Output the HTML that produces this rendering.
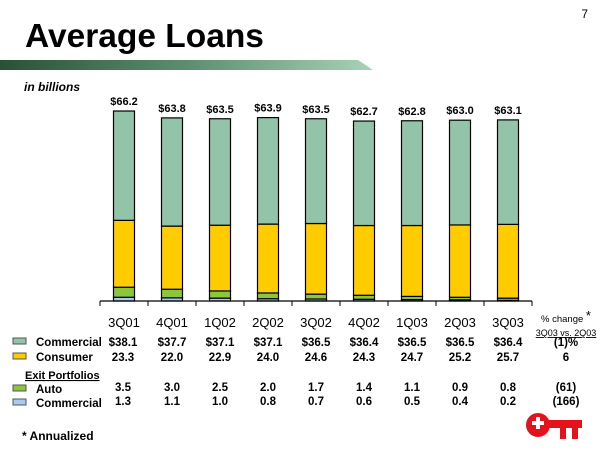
<!DOCTYPE html>
<html><head><meta charset="utf-8"><style>
body{margin:0;background:#fff;}
svg text{font-family:"Liberation Sans",Arial,sans-serif;}
</style></head><body>
<svg width="600" height="450" viewBox="0 0 600 450" xmlns="http://www.w3.org/2000/svg">
<defs><linearGradient id="g" x1="0" x2="1"><stop offset="0" stop-color="#2a5138"/><stop offset="0.5" stop-color="#5d8d6f"/><stop offset="1" stop-color="#a9d2b9"/></linearGradient></defs>
<text x="588" y="18" font-size="12" font-family="Liberation Serif" text-anchor="end">7</text>
<text x="25" y="47" font-size="33.5" font-weight="bold">Average Loans</text>
<polygon points="0,60 358,60 373,70 0,70" fill="url(#g)"/>
<text x="24" y="91" font-size="12" font-weight="bold" font-style="italic">in billions</text>
<g id="chart"></g>
<g id="table"></g>
<text x="566" y="322" font-size="9.5" text-anchor="middle">% change <tspan font-size="13" dy="-2">*</tspan></text>
<text x="566" y="336" font-size="9" text-anchor="middle" text-decoration="underline">3Q03 vs. 2Q03</text>
<text x="25" y="379" font-size="11" font-weight="bold" text-decoration="underline">Exit Portfolios</text>
<text x="22" y="440" font-size="12" font-weight="bold">* Annualized</text>
<g fill="#e3121b">
<circle cx="538" cy="425" r="12"/>
<rect x="546" y="420" width="36" height="8"/>
<rect x="560" y="426" width="6" height="13"/><rect x="572" y="426" width="6" height="13"/>
<path d="M532 421h4v-4h4v4h4v4h-4v4h-4v-4h-4z" fill="#fff"/>
</g>
</svg>
<script>
const categories=["3Q01","4Q01","1Q02","2Q02","3Q02","4Q02","1Q03","2Q03","3Q03"];
const exitCommercial=[1.3,1.1,1.0,0.8,0.7,0.6,0.5,0.4,0.2];
const auto=[3.5,3.0,2.5,2.0,1.7,1.4,1.1,0.9,0.8];
const consumer=[23.3,22.0,22.9,24.0,24.6,24.3,24.7,25.2,25.7];
const commercial=[38.1,37.7,37.1,37.1,36.5,36.4,36.5,36.5,36.4];
const totals=["$66.2","$63.8","$63.5","$63.9","$63.5","$62.7","$62.8","$63.0","$63.1"];
const commercialLabels=["$38.1","$37.7","$37.1","$37.1","$36.5","$36.4","$36.5","$36.5","$36.4"];
const pctChange=["(1)%","6","(61)","(166)"];
const NS="http://www.w3.org/2000/svg";
const base=301,scale=2.87,x0=100,step=48,bw=21;
const xC=i=>x0+step*(i+0.5);
const yV=v=>base-v*scale;
function mk(tag,attrs,parent){const e=document.createElementNS(NS,tag);for(const k in attrs)e.setAttribute(k,attrs[k]);parent.appendChild(e);return e;}
const chart=document.getElementById('chart');
const series=[[exitCommercial,"#a6caf0","exit-commercial"],[auto,"#8cc63e","auto"],[consumer,"#ffcc00","consumer"],[commercial,"#93c3a9","commercial"]];
categories.forEach((c,i)=>{
  let acc=0;
  series.forEach(([arr,col,nm])=>{
    const y1=yV(acc),y2=yV(acc+arr[i]);acc+=arr[i];
    const r=mk('rect',{x:xC(i)-bw/2,y:y2,width:bw,height:y1-y2,fill:col,stroke:'#000','stroke-width':1.2},chart);
    
    
  });
  const t=mk('text',{x:xC(i),y:yV(acc)-6,'font-size':11,'font-weight':'bold','text-anchor':'middle'},chart);
  t.textContent=totals[i];
  
  
  const l=mk('text',{x:xC(i),y:327,'font-size':13,'text-anchor':'middle'},chart);
  l.textContent=c;
  
  
});
const ax=mk('line',{x1:x0,x2:x0+step*9,y1:base,y2:base,stroke:'#000','stroke-width':1.2},chart);


for(let k=0;k<=9;k++){const tk=mk('line',{x1:x0+step*k,x2:x0+step*k,y1:base,y2:base+5,stroke:'#000'},chart);

}
const table=document.getElementById('table');
const rows=[["Commercial","#93c3a9",commercialLabels,346],["Consumer","#ffcc00",consumer.map(v=>v.toFixed(1)),361],["Auto","#8cc63e",auto.map(v=>v.toFixed(1)),393],["Commercial","#a6caf0",exitCommercial.map(v=>v.toFixed(1)),407]];
rows.forEach(([name,col,vals,y],r)=>{
  const sw=mk('rect',{x:13,y:y-8,width:13,height:6,fill:col,stroke:'#555'},table);
  
  
  const lt=mk('text',{x:36,y:y,'font-size':11.5,'font-weight':'bold'},table);
  lt.textContent=name;
  
  
  vals.forEach((v,i)=>{const t=mk('text',{x:xC(i)+(i==0?-1:0),y:y-(r>=2?2:0),'font-size':11.5,'font-weight':'bold','text-anchor':'middle'},table);
    t.textContent=v;
    
    });
  const p=mk('text',{x:566,y:y-(r>=2?2:0),'font-size':11.5,'font-weight':'bold','text-anchor':'middle'},table);
  p.textContent=pctChange[r];
  
  
});
</script>
</body></html>
